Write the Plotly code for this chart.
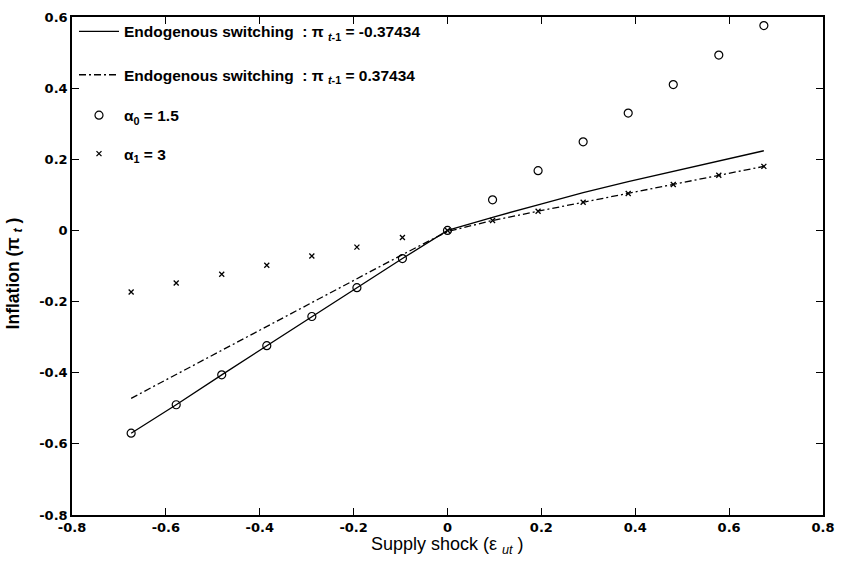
import plotly.graph_objects as go

shock = [-0.674, -0.578, -0.481, -0.385, -0.289, -0.193, -0.096, 0.0,
         0.096, 0.193, 0.289, 0.385, 0.481, 0.578, 0.674]
endo_neg = [-0.570, -0.490, -0.406, -0.324, -0.242, -0.161, -0.079, 0.0,
            0.037, 0.072, 0.106, 0.137, 0.166, 0.195, 0.224]
endo_pos = [-0.472, -0.405, -0.337, -0.270, -0.202, -0.135, -0.068, -0.003,
            0.028, 0.054, 0.079, 0.104, 0.129, 0.155, 0.180]
alpha0 = [-0.570, -0.490, -0.406, -0.324, -0.242, -0.161, -0.079, 0.0,
          0.086, 0.168, 0.249, 0.330, 0.410, 0.493, 0.576]
alpha1 = [-0.173, -0.148, -0.123, -0.098, -0.072, -0.047, -0.020, 0.0,
          0.028, 0.054, 0.079, 0.104, 0.129, 0.155, 0.180]

xticks = [-0.8, -0.6, -0.4, -0.2, 0, 0.2, 0.4, 0.6, 0.8]
xticktext = ["-0.8", "-0.6", "-0.4", "-0.2", "0", "0.2", "0.4", "0.6", "0.8"]
yticks = [-0.8, -0.6, -0.4, -0.2, 0, 0.2, 0.4, 0.6]
yticktext = ["-0.8", "-0.6", "-0.4", "-0.2", "0", "0.2", "0.4", "0.6"]

FONT = "Liberation Sans, Arial, sans-serif"
TICKFONT = "DejaVu Sans, sans-serif"

W, H = 845, 563
ML, MR, MT, MB = 72, 19, 10, 48
PW, PH = W - ML - MR, H - MT - MB


def py(pix):
    # pixel row -> paper y
    return (H - MB - pix) / PH


fig = go.Figure()
fig.add_trace(go.Scatter(
    x=shock, y=endo_neg, mode="lines", legend="legend",
    name="Endogenous switching  : π <sub><i>t</i>-1</sub> = -0.37434",
    line=dict(color="black", width=1.3)))
fig.add_trace(go.Scatter(
    x=shock, y=endo_pos, mode="lines", legend="legend2",
    name="Endogenous switching  : π <sub><i>t</i>-1</sub> = 0.37434",
    line=dict(color="black", width=1.3, dash="7px,3px,2px,3px")))
fig.add_trace(go.Scatter(
    x=shock, y=alpha0, mode="markers", legend="legend3",
    name="α<sub>0</sub> = 1.5",
    marker=dict(symbol="circle-open", size=8, color="black", line=dict(width=1.2))))
fig.add_trace(go.Scatter(
    x=shock, y=alpha1, mode="markers", legend="legend4",
    name="α<sub>1</sub> = 3",
    marker=dict(symbol="x-thin-open", size=5, color="black", line=dict(width=1.3, color="black"))))

axis_common = dict(showline=True, linecolor="black", linewidth=1.5, mirror="ticks",
                   ticks="inside", ticklen=7, tickcolor="black", tickwidth=1.2,
                   showgrid=False, zeroline=False,
                   tickfont=dict(family=TICKFONT, size=13, color="black", weight="bold"))

legend_common = dict(xanchor="left", yanchor="middle", x=2 / PW,
                     bgcolor="rgba(0,0,0,0)", borderwidth=0, itemwidth=40,
                     font=dict(family=FONT, size=15.5, color="black", weight="bold"))

fig.update_layout(
    width=W, height=H,
    margin=dict(l=ML, r=MR, t=MT, b=MB),
    paper_bgcolor="white", plot_bgcolor="white",
    font=dict(family=FONT, color="black"),
    showlegend=True,
    legend=dict(y=py(25), **legend_common),
    legend2=dict(y=py(69), **legend_common),
    legend3=dict(y=py(110), **legend_common),
    legend4=dict(y=py(149), **legend_common),
    xaxis=dict(range=[-0.8, 0.8], tickvals=xticks, ticktext=xticktext, **axis_common),
    yaxis=dict(range=[-0.8, 0.6], tickvals=yticks, ticktext=yticktext, **axis_common),
    annotations=[
        dict(text="Supply shock (ε <sub><i>ut</i></sub> )", showarrow=False,
             xref="paper", yref="paper", x=0.5, y=py(546),
             xanchor="center", yanchor="middle",
             font=dict(family=FONT, size=18, color="black")),
        dict(text="Inflation (π <sub><i>t</i></sub> )", showarrow=False,
             xref="paper", yref="paper", x=0, xshift=-(ML - 14), y=py(270),
             xanchor="center", yanchor="middle", textangle=-90,
             font=dict(family=FONT, size=17.5, color="black", weight="bold")),
    ],
)

fig.write_html("out.html")
